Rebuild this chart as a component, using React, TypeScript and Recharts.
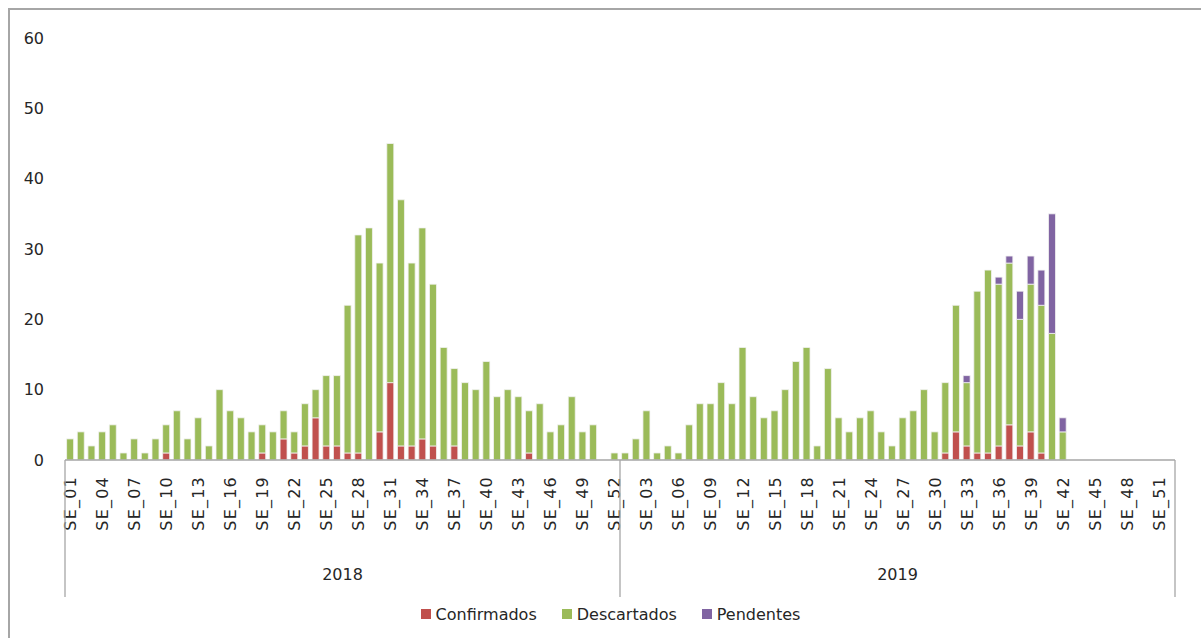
import { BarChart, Bar, XAxis, YAxis, Legend } from 'recharts';

const weekLabels = Array.from({ length: 52 }, (_, i) => 'SE_' + String(i + 1).padStart(2, '0'));
const years = ['2018', '2019'];

const confirmados2018 = [
  0, 0, 0, 0, 0, 0, 0, 0, 0, 1,
  0, 0, 0, 0, 0, 0, 0, 0, 1, 0,
  3, 1, 2, 6, 2, 2, 1, 1, 0, 4,
  11, 2, 2, 3, 2, 0, 2, 0, 0, 0,
  0, 0, 0, 1, 0, 0, 0, 0, 0, 0,
  0, 0,
];
const descartados2018 = [
  3, 4, 2, 4, 5, 1, 3, 1, 3, 4,
  7, 3, 6, 2, 10, 7, 6, 4, 4, 4,
  4, 3, 6, 4, 10, 10, 21, 31, 33, 24,
  34, 35, 26, 30, 23, 16, 11, 11, 10, 14,
  9, 10, 9, 6, 8, 4, 5, 9, 4, 5,
  0, 1,
];
const pendentes2018 = new Array(52).fill(0);

const confirmados2019 = [
  0, 0, 0, 0, 0, 0, 0, 0, 0, 0,
  0, 0, 0, 0, 0, 0, 0, 0, 0, 0,
  0, 0, 0, 0, 0, 0, 0, 0, 0, 0,
  1, 4, 2, 1, 1, 2, 5, 2, 4, 1,
  0, 0, 0, 0, 0, 0, 0, 0, 0, 0,
  0, 0,
];
const descartados2019 = [
  1, 3, 7, 1, 2, 1, 5, 8, 8, 11,
  8, 16, 9, 6, 7, 10, 14, 16, 2, 13,
  6, 4, 6, 7, 4, 2, 6, 7, 10, 4,
  10, 18, 9, 23, 26, 23, 23, 18, 21, 21,
  18, 4, 0, 0, 0, 0, 0, 0, 0, 0,
  0, 0,
];
const pendentes2019 = [
  0, 0, 0, 0, 0, 0, 0, 0, 0, 0,
  0, 0, 0, 0, 0, 0, 0, 0, 0, 0,
  0, 0, 0, 0, 0, 0, 0, 0, 0, 0,
  0, 0, 1, 0, 0, 1, 1, 4, 4, 5,
  17, 2, 0, 0, 0, 0, 0, 0, 0, 0,
  0, 0,
];

const yTicks = [0, 10, 20, 30, 40, 50, 60];

const series = [
  { key: 'confirmados', name: 'Confirmados', color: '#C0504D' },
  { key: 'descartados', name: 'Descartados', color: '#9BBB59' },
  { key: 'pendentes', name: 'Pendentes', color: '#8064A2' },
];

const byYear = {
  '2018': { confirmados: confirmados2018, descartados: descartados2018, pendentes: pendentes2018 },
  '2019': { confirmados: confirmados2019, descartados: descartados2019, pendentes: pendentes2019 },
};

const data = years.flatMap((year) =>
  weekLabels.map((week, i) => ({
    key: `${year}-${week}`,
    week,
    year,
    confirmados: byYear[year].confirmados[i],
    descartados: byYear[year].descartados[i],
    pendentes: byYear[year].pendentes[i],
  }))
);

const W = 1201;
const H = 638;
const margin = { top: 38, right: 26, bottom: 12, left: 0 };
const yAxisWidth = 65;
const band = (W - margin.left - margin.right - yAxisWidth) / data.length;
const font = '"DejaVu Sans", Verdana, sans-serif';
const textColor = '#262626';
const lineColor = '#A6A6A6';
const labelGap = 16;

function WeekTick(props: any) {
  const { x, y, index } = props;
  const row = data[index];
  const axisY = y - labelGap;
  const els = [];
  if (index % 3 === 0) {
    els.push(
      <text
        key="t"
        x={0}
        y={0}
        dy="0.36em"
        textAnchor="end"
        transform={`translate(${x},${y}) rotate(-90)`}
        fill={textColor}
        fontSize={16}
        letterSpacing={1.2}
        fontFamily={font}
      >
        {row.week}
      </text>
    );
  }
  if (index % 52 === 0) {
    els.push(<line key="d" x1={x - band / 2} x2={x - band / 2} y1={axisY} y2={axisY + 137} stroke={lineColor} strokeWidth={1.3} />);
  }
  if (index === data.length - 1) {
    els.push(<line key="e" x1={x + band / 2} x2={x + band / 2} y1={axisY} y2={axisY + 137} stroke={lineColor} strokeWidth={1.3} />);
  }
  if (index % 52 === 26) {
    els.push(
      <text key="y" x={x - band / 2} y={axisY + 120} textAnchor="middle" fill={textColor} fontSize={16} fontFamily={font}>
        {row.year}
      </text>
    );
  }
  return <g>{els}</g>;
}

function LegendContent() {
  return (
    <div
      style={{
        height: 24,
        display: 'flex',
        justifyContent: 'center',
        alignItems: 'center',
        gap: 25,
        paddingLeft: 46,
        fontFamily: font,
        fontSize: 16,
        color: textColor,
      }}
    >
      {series.map((s) => (
        <div key={s.key} style={{ display: 'flex', alignItems: 'center', gap: 5 }}>
          <span style={{ width: 10, height: 10, background: s.color, display: 'inline-block' }} />
          <span>{s.name}</span>
        </div>
      ))}
    </div>
  );
}

export default function App() {
  return (
    <div style={{ position: 'absolute', left: 0, top: 0, width: W, height: H, overflow: 'hidden', background: '#fff' }}>
      <div
        style={{
          position: 'absolute',
          left: 8,
          top: 8,
          width: W,
          height: H,
          borderTop: `2px solid ${lineColor}`,
          borderLeft: `2px solid ${lineColor}`,
        }}
      />
      <div style={{ position: 'absolute', left: 0, top: 0 }}>
        <BarChart width={W} height={H} data={data} margin={margin} barCategoryGap="15%">
          <XAxis
            dataKey="key"
            interval={0}
            height={142}
            tickLine={false}
            tickSize={0}
            tickMargin={labelGap}
            axisLine={{ stroke: lineColor, strokeWidth: 1.5 }}
            tick={(p: any) => <WeekTick {...p} />}
          />
          <YAxis
            width={yAxisWidth}
            domain={[0, 60]}
            ticks={yTicks}
            axisLine={false}
            tickLine={false}
            tickMargin={15}
            tick={{ fill: textColor, fontSize: 16, fontFamily: font }}
          />
          <Legend verticalAlign="bottom" content={() => <LegendContent />} />
          {series.map((s) => (
            <Bar
              key={s.key}
              dataKey={s.key}
              name={s.name}
              stackId="a"
              fill={s.color}
              stroke="#F2F2F2"
              strokeWidth={0.8}
              isAnimationActive={false}
            />
          ))}
        </BarChart>
      </div>
    </div>
  );
}
